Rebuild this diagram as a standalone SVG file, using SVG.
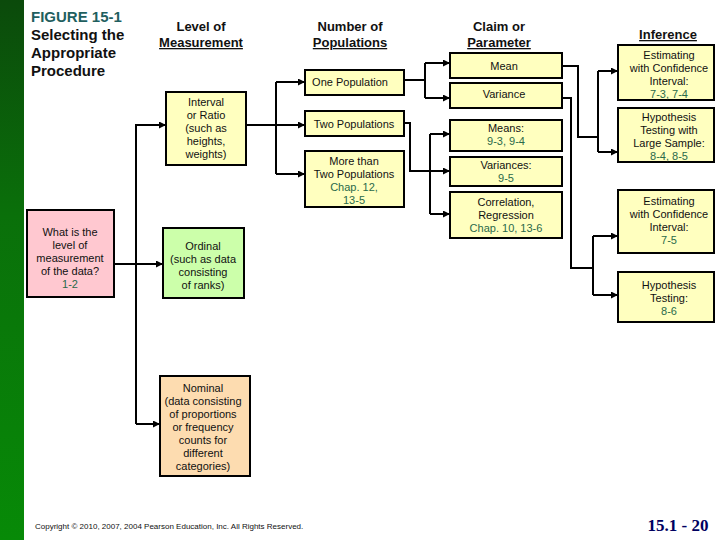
<svg xmlns="http://www.w3.org/2000/svg" width="720" height="540" viewBox="0 0 720 540">
<defs>
<linearGradient id="g" x1="0" y1="0" x2="0" y2="1"><stop offset="0" stop-color="#0b4a0b"/><stop offset="0.4" stop-color="#0a700a"/><stop offset="1" stop-color="#078a07"/></linearGradient>
<marker id="a" viewBox="0 0 10 10" refX="10" refY="5" markerWidth="7" markerHeight="7" orient="auto" markerUnits="userSpaceOnUse"><path d="M0,0L10,5L0,10z" fill="#000"/></marker>
</defs>
<style>
text{font-family:"Liberation Sans",Arial,sans-serif;font-size:11px;text-anchor:middle;fill:#111}
.b{stroke:#000;stroke-width:2}
.y{fill:#ffffbf}
.h{font-weight:bold;font-size:13px}
.c{fill:#2a6a4a}
.t{font-weight:bold;font-size:15px;text-anchor:start}
.l{fill:none;stroke:#000;stroke-width:2}
.ar{marker-end:url(#a)}
</style>
<rect width="720" height="540" fill="#fff"/>
<rect width="24" height="540" fill="url(#g)"/>
<text class="t" x="31" y="22" style="fill:#1f5f5f">FIGURE 15-1</text>
<text class="t" x="31" y="40">Selecting the</text>
<text class="t" x="31" y="58">Appropriate</text>
<text class="t" x="31" y="76">Procedure</text>
<text class="h" x="201" y="31">Level of</text>
<text class="h" x="201" y="47" text-decoration="underline">Measurement</text>
<text class="h" x="350" y="31">Number of</text>
<text class="h" x="350" y="47" text-decoration="underline">Populations</text>
<text class="h" x="499" y="31">Claim or</text>
<text class="h" x="499" y="47" text-decoration="underline">Parameter</text>
<text class="h" x="668" y="39" text-decoration="underline">Inference</text>
<g id="connectors">
<path class="l" d="M114,264H136M136,124V424"/>
<path class="l ar" d="M136,125H166"/><path class="l ar" d="M136,264H163"/><path class="l ar" d="M136,424H160"/>
<path class="l" d="M246,125H276M276,82V174"/>
<path class="l ar" d="M276,82H305"/><path class="l ar" d="M276,125H305"/><path class="l ar" d="M276,174H305"/>
<path class="l" d="M404,80H425M425,63V98"/>
<path class="l ar" d="M425,63H450"/><path class="l ar" d="M425,98H450"/>
<path class="l" d="M404,123H410V171H430M430,134V214"/>
<path class="l ar" d="M430,134H450"/><path class="l ar" d="M430,171H450"/><path class="l ar" d="M430,214H450"/>
<path class="l" d="M562,66H578V137H598M598,71V152"/>
<path class="l ar" d="M598,71H618"/><path class="l ar" d="M598,152H618"/>
<path class="l" d="M562,98H571V268H593M593,236V295"/>
<path class="l ar" d="M593,236H618"/><path class="l ar" d="M593,295H618"/>
</g>
<g id="q"><rect class="b" x="27" y="210" width="87" height="87" fill="#ffc8d0"/>
<text x="70" y="236">What is the</text><text x="70" y="249">level of</text><text x="70" y="262">measurement</text><text x="70" y="275">of the data?</text><text class="c" x="70" y="288">1-2</text></g>
<g id="interval"><rect class="b y" x="166" y="92" width="80" height="73"/>
<text x="206" y="106">Interval</text><text x="206" y="119">or Ratio</text><text x="206" y="132">(such as</text><text x="206" y="145">heights,</text><text x="206" y="158">weights)</text></g>
<g id="ordinal"><rect class="b" x="163" y="228" width="81" height="70" fill="#ccffaa"/>
<text x="203" y="250">Ordinal</text><text x="203" y="263">(such as data</text><text x="203" y="276">consisting</text><text x="203" y="289">of  ranks)</text></g>
<g id="nominal"><rect class="b" x="160" y="376" width="90" height="100" fill="#fddcb0"/>
<text x="203" y="392">Nominal</text><text x="203" y="405">(data consisting</text><text x="203" y="418">of proportions</text><text x="203" y="431">or frequency</text><text x="203" y="444">counts for</text><text x="203" y="457">different</text><text x="203" y="470">categories)</text></g>
<g id="one"><rect class="b y" x="305" y="70" width="99" height="25"/><text x="350" y="86">One Population</text></g>
<g id="two"><rect class="b y" x="305" y="111" width="99" height="25"/><text x="354" y="128">Two Populations</text></g>
<g id="more"><rect class="b y" x="305" y="151" width="99" height="56"/>
<text x="354" y="165">More than</text><text x="354" y="178">Two Populations</text><text class="c" x="354" y="191">Chap. 12,</text><text class="c" x="354" y="204">13-5</text></g>
<g id="mean"><rect class="b y" x="450" y="53" width="112" height="25"/><text x="504" y="70">Mean</text></g>
<g id="variance"><rect class="b y" x="450" y="83" width="112" height="25"/><text x="504" y="98">Variance</text></g>
<g id="means"><rect class="b y" x="450" y="120" width="112" height="31"/><text x="506" y="132">Means:</text><text class="c" x="506" y="145">9-3, 9-4</text></g>
<g id="variances"><rect class="b y" x="450" y="157" width="112" height="29"/><text x="506" y="169">Variances:</text><text class="c" x="506" y="182">9-5</text></g>
<g id="corr"><rect class="b y" x="450" y="192" width="112" height="46"/><text x="506" y="206">Correlation,</text><text x="506" y="219">Regression</text><text class="c" x="506" y="232">Chap. 10,  13-6</text></g>
<g id="ci1"><rect class="b y" x="618" y="45" width="96" height="55"/><text x="669" y="59">Estimating</text><text x="669" y="72">with Confidence</text><text x="669" y="85">Interval:</text><text class="c" x="669" y="98">7-3, 7-4</text></g>
<g id="ht1"><rect class="b y" x="618" y="108" width="96" height="54"/><text x="669" y="121">Hypothesis</text><text x="669" y="134">Testing with</text><text x="669" y="147">Large Sample:</text><text class="c" x="669" y="160">8-4, 8-5</text></g>
<g id="ci2"><rect class="b y" x="618" y="190" width="96" height="63"/><text x="669" y="205">Estimating</text><text x="669" y="218">with Confidence</text><text x="669" y="231">Interval:</text><text class="c" x="669" y="244">7-5</text></g>
<g id="ht2"><rect class="b y" x="618" y="272" width="96" height="50"/><text x="669" y="289">Hypothesis</text><text x="669" y="302">Testing:</text><text class="c" x="669" y="315">8-6</text></g>
<text x="35" y="529" style="font-size:8px;text-anchor:start">Copyright © 2010, 2007, 2004 Pearson Education, Inc. All Rights Reserved.</text>
<text x="678" y="531" style="font-family:'Liberation Serif',serif;font-size:17px;font-weight:bold;fill:#000060">15.1 - 20</text>
</svg>
